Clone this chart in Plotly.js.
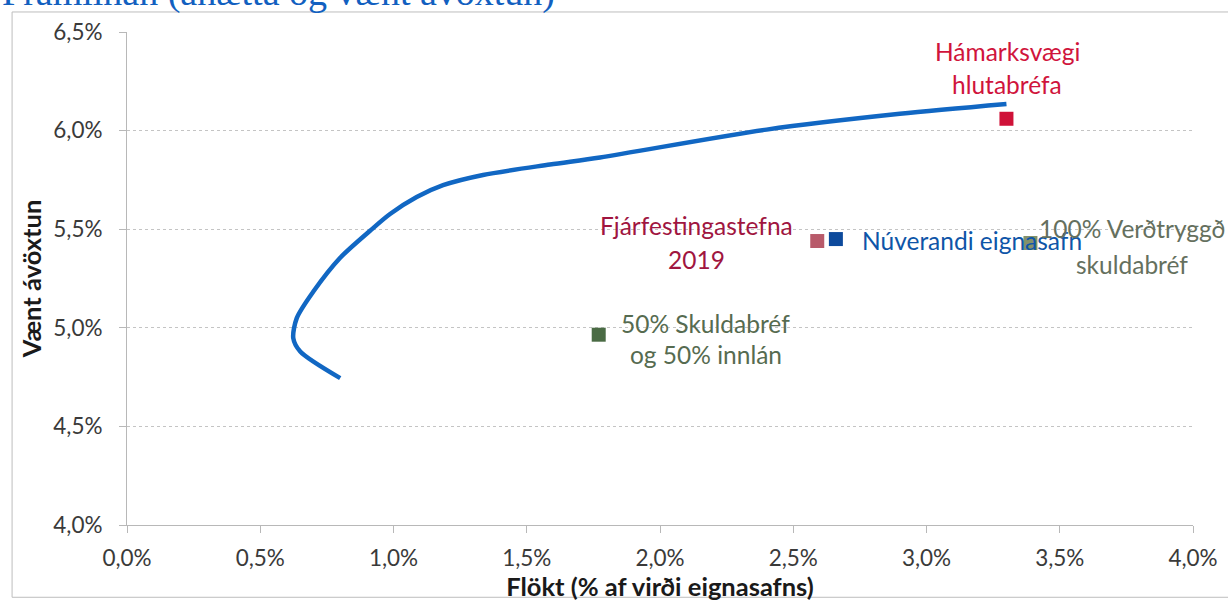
<!DOCTYPE html>
<html>
<head>
<meta charset="utf-8">
<script src="https://cdn.plot.ly/plotly-3.0.1.min.js"></script>
<style>html,body{margin:0;padding:0;background:#fff;}#chart{width:1228px;height:601px;}</style>
</head>
<body>
<div id="chart"></div>
<script>
// Efficient frontier curve (volatility %, expected return %)
const frontierVol = [0.80, 0.65, 0.624, 0.637, 0.70, 0.80, 0.912, 0.987, 1.087, 1.186, 1.336, 1.587, 1.775, 2.40, 2.90, 3.30];
const frontierRet = [4.745, 4.88, 4.947, 5.049, 5.185, 5.355, 5.492, 5.577, 5.663, 5.723, 5.775, 5.828, 5.864, 6.005, 6.085, 6.135];

// Portfolio points
const pointNames = ['Hámarksvægi hlutabréfa', 'Fjárfestingastefna 2019', 'Núverandi eignasafn', '100% Verðtryggð skuldabréf', '50% Skuldabréf og 50% innlán'];
const pointVol = [3.30, 2.59, 2.66, 3.39, 1.77];
const pointRet = [6.06, 5.44, 5.45, 5.43, 4.965];
const labelLines = [['Hámarksvægi', 'hlutabréfa'], ['Fjárfestingastefna', '2019'], ['Núverandi eignasafn'], ['100% Verðtryggð', 'skuldabréf'], ['50% Skuldabréf', 'og 50% innlán']];

// Axis ticks
const xTickVals = [0, 0.5, 1, 1.5, 2, 2.5, 3, 3.5, 4];
const xTickText = ['0,0%', '0,5%', '1,0%', '1,5%', '2,0%', '2,5%', '3,0%', '3,5%', '4,0%'];
const yTickVals = [4, 4.5, 5, 5.5, 6, 6.5];
const yTickText = ['4,0%', '4,5%', '5,0%', '5,5%', '6,0%', '6,5%'];

// Styles (not data)
const markerColors = ['#cf1238', '#b85a6a', '#0d4a9c', '#6f7f50', '#4a6b44'];
const textColors = ['#d0143c', '#a01540', '#0e55a8', '#65705e', '#566b50'];
const labelStyle = [
  {anchor: 'center', xshift: 1, yshifts: [67, 34]},
  {anchor: 'center', xshift: -121, yshifts: [16, -18]},
  {anchor: 'left', xshift: 24, yshifts: [-1]},
  {anchor: 'center', xshift: 102, yshifts: [15, -21]},
  {anchor: 'center', xshift: 107, yshifts: [11, -20]}
];
const labelFont = 'Lato, "Open Sans", sans-serif';

const traces = [{
  x: frontierVol, y: frontierRet, mode: 'lines', type: 'scatter',
  line: {color: '#1167c3', width: 4.5, shape: 'spline', smoothing: 0.8},
  hoverinfo: 'skip', showlegend: false
}];
pointNames.forEach((n, i) => {
  traces.push({
    x: [pointVol[i]], y: [pointRet[i]], mode: 'markers', type: 'scatter', name: n,
    marker: {symbol: 'square', size: 14, color: markerColors[i], opacity: i === 3 ? 0.85 : 1},
    showlegend: false
  });
});

const annotations = [];
labelLines.forEach((lines, i) => {
  const st = labelStyle[i];
  lines.forEach((t, j) => {
    annotations.push({
      x: pointVol[i], y: pointRet[i], xref: 'x', yref: 'y', text: t, showarrow: false,
      xanchor: st.anchor, yanchor: 'middle', xshift: st.xshift, yshift: st.yshifts[j],
      font: {family: labelFont, size: 24.5, color: textColors[i]}
    });
  });
});
annotations.push({
  x: -0.119, y: 1.032, xref: 'paper', yref: 'paper', xanchor: 'left', yanchor: 'bottom',
  text: 'Framlínan (áhætta og vænt ávöxtun)', showarrow: false,
  font: {family: '"Liberation Serif", "DejaVu Serif", serif', size: 38, color: '#1260c0'}
});

const layout = {
  width: 1228, height: 601,
  margin: {l: 127, r: 35, t: 32, b: 76},
  paper_bgcolor: '#ffffff', plot_bgcolor: '#ffffff',
  showlegend: false,
  xaxis: {
    range: [0, 4], tickvals: xTickVals, ticktext: xTickText,
    showgrid: false, zeroline: false,
    showline: true, linecolor: '#b8b8b8', linewidth: 1,
    ticks: 'outside', ticklen: 7, tickcolor: '#b8b8b8',
    ticklabelstandoff: 6,
    tickfont: {family: labelFont, size: 22.5, color: '#3a3a3a'},
    title: {text: '<b>Flökt (% af virði eignasafns)</b>', standoff: 2,
      font: {family: labelFont, size: 25.5, color: '#1a1a1a'}}
  },
  yaxis: {
    range: [4, 6.5], tickvals: yTickVals, ticktext: yTickText,
    showgrid: true, gridcolor: '#c4c4c4', griddash: 'dot', gridwidth: 1,
    zeroline: false,
    showline: true, linecolor: '#b8b8b8', linewidth: 1,
    ticks: 'outside', ticklen: 7, tickcolor: '#b8b8b8',
    ticklabelstandoff: 12,
    tickfont: {family: labelFont, size: 22.5, color: '#3a3a3a'},
    title: {text: '<b>Vænt ávöxtun</b>', standoff: 4,
      font: {family: labelFont, size: 25.5, color: '#1a1a1a'}}
  },
  shapes: [{
    type: 'rect', xref: 'paper', yref: 'paper',
    x0: -0.1078, x1: 1.08, y0: -0.1466, y1: 1.0406,
    line: {color: '#bdbdbd', width: 1}, fillcolor: 'rgba(0,0,0,0)', layer: 'below'
  }],
  annotations: annotations
};

Plotly.newPlot('chart', traces, layout, {displayModeBar: false, staticPlot: true});
</script>
</body>
</html>
